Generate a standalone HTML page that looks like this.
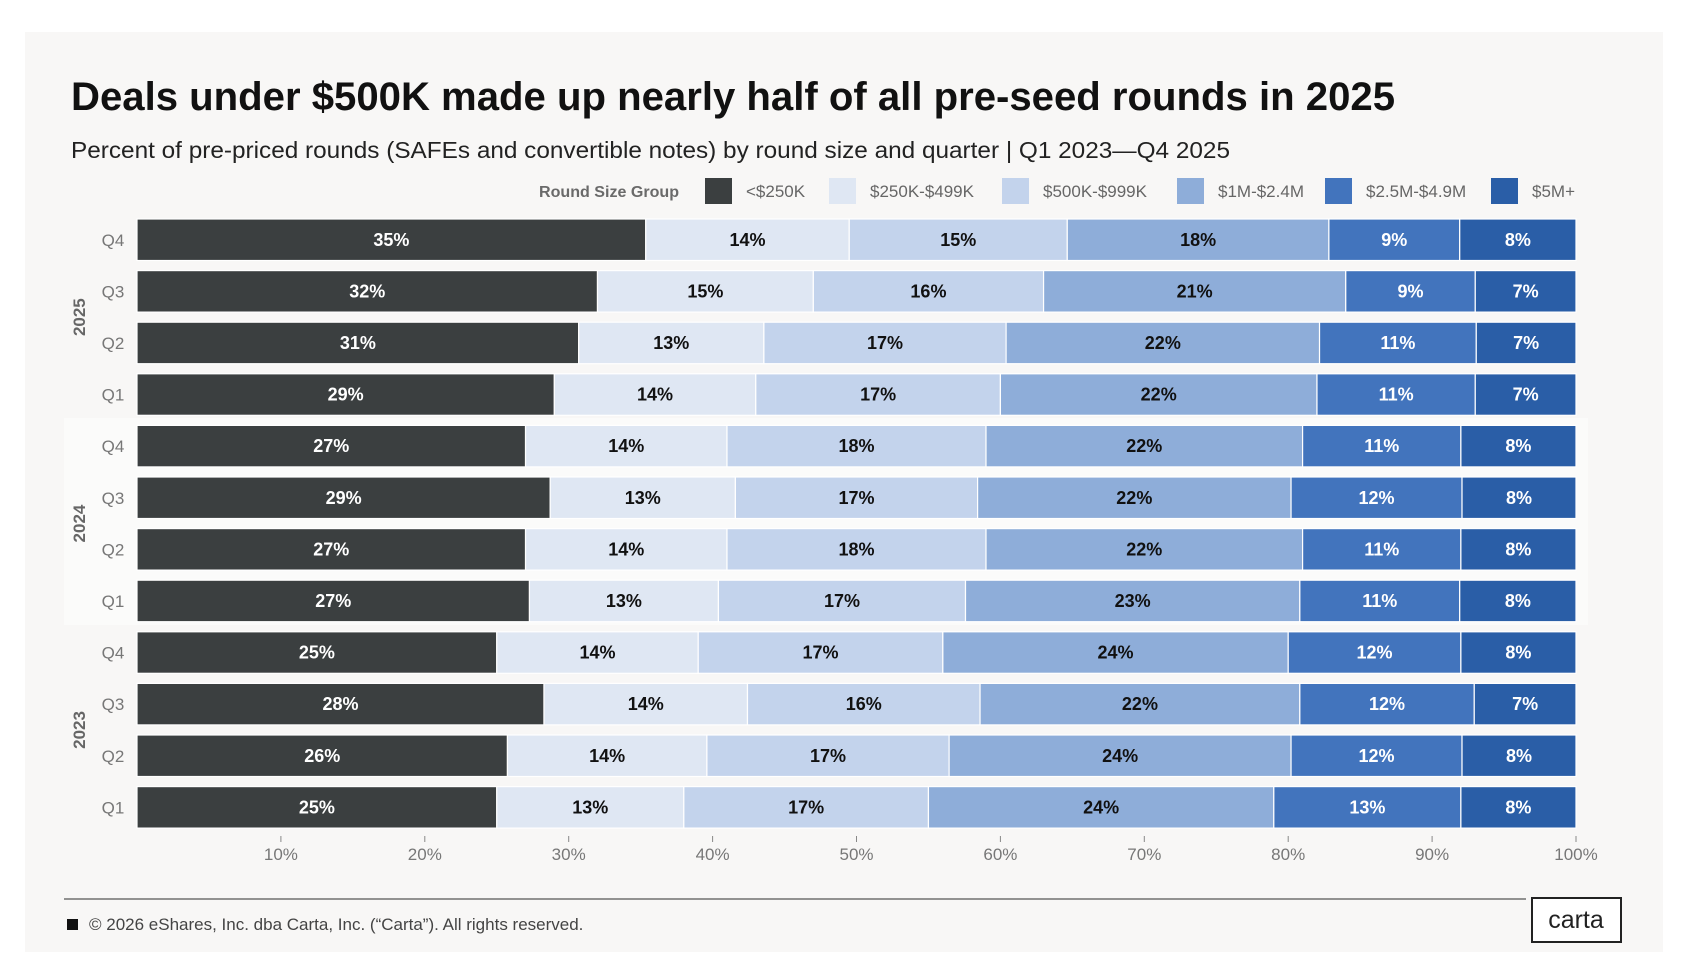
<!DOCTYPE html>
<html><head><meta charset="utf-8"><style>
html,body{margin:0;padding:0;background:#fff;}
svg{display:block;font-family:"Liberation Sans",sans-serif;}
</style></head><body>
<svg id="chart" width="1682" height="972" viewBox="0 0 1682 972">
<rect x="25" y="32" width="1638" height="920" fill="#f8f7f6"/>
<rect x="64" y="418" width="1524" height="207" fill="#fbfbfa"/>
<text x="71" y="110" font-size="40" font-weight="bold" fill="#111" textLength="1324" lengthAdjust="spacingAndGlyphs">Deals under $500K made up nearly half of all pre-seed rounds in 2025</text>
<text x="71" y="158" font-size="23" fill="#222" textLength="1159" lengthAdjust="spacingAndGlyphs">Percent of pre-priced rounds (SAFEs and convertible notes) by round size and quarter | Q1 2023—Q4 2025</text>
<text x="539" y="197" font-size="16" font-weight="bold" fill="#6a6a6a" textLength="140" lengthAdjust="spacingAndGlyphs">Round Size Group</text>
<g id="legend"></g>
<g id="bars"></g>
<g id="axis"></g>
<line x1="64" y1="899" x2="1526" y2="899" stroke="#555" stroke-width="1.2"/>
<rect x="67" y="919" width="11" height="11" fill="#111"/>
<text x="89" y="930" font-size="17" fill="#444">© 2026 eShares, Inc. dba Carta, Inc. (“Carta”). All rights reserved.</text>
<rect x="1532" y="898" width="89" height="44" fill="#fff" stroke="#222" stroke-width="2"/>
<text x="1576" y="928" font-size="25" fill="#222" text-anchor="middle">carta</text>
</svg>
<script>
const categories = ["Q4","Q3","Q2","Q1","Q4","Q3","Q2","Q1","Q4","Q3","Q2","Q1"];
const years = ["2025","2024","2023"];
const seriesNames = ["<$250K","$250K-$499K","$500K-$999K","$1M-$2.4M","$2.5M-$4.9M","$5M+"];
const s250 = [35,32,31,29,27,29,27,27,25,28,26,25];
const s499 = [14,15,13,14,14,13,14,13,14,14,14,13];
const s999 = [15,16,17,17,18,17,18,17,17,16,17,17];
const s24 = [18,21,22,22,22,22,22,23,24,22,24,24];
const s49 = [9,9,11,11,11,12,11,11,12,12,12,13];
const s5 = [8,7,7,7,8,8,8,8,8,7,8,8];
const tickLabels = ["10%","20%","30%","40%","50%","60%","70%","80%","90%","100%"];
const tickValues = [10,20,30,40,50,60,70,80,90,100];

const colors = ["#3b3f40","#dfe7f3","#c3d3ec","#8eadd9","#4274bd","#2a5ea7"];
const textColors = ["#fff","#111","#111","#111","#fff","#fff"];
const series = [s250,s499,s999,s24,s49,s5];
const NS = "http://www.w3.org/2000/svg";
const X0 = 137, X1 = 1576, Y0 = 219, PITCH = 51.6, BH = 41.5;
const xs = v => X0 + (X1 - X0) * v / 100;
const ys = i => Y0 + i * PITCH;
function mk(tag, attrs, parent){const e=document.createElementNS(NS,tag);for(const k in attrs)e.setAttribute(k,attrs[k]);parent.appendChild(e);return e;}

const legend = document.getElementById('legend');
const legX = [705,829,1002,1177,1325,1491];
seriesNames.forEach((n,j)=>{
  const r = mk('rect',{x:legX[j],y:178,width:27,height:26,fill:colors[j]},legend);
  
  
  const t = mk('text',{x:legX[j]+41,y:197,'font-size':17,fill:'#666'},legend);
  t.textContent = n;
  
  
});

const bars = document.getElementById('bars');
categories.forEach((c,i)=>{
  const tot = series.reduce((a,s)=>a+s[i],0);
  let acc = 0;
  const y = ys(i);
  series.forEach((s,j)=>{
    const a = xs(acc/tot*100), b = xs((acc+s[i])/tot*100);
    const r = mk('rect',{x:a,y:y,width:b-a,height:BH,fill:colors[j],stroke:'#fff','stroke-width':1.2},bars);
    
    
    const t = mk('text',{x:(a+b)/2,y:y+BH/2+6,'font-size':18,'font-weight':'bold',fill:textColors[j],'text-anchor':'middle'},bars);
    t.textContent = s[i]+'%';
    
    
    acc += s[i];
  });
  const q = mk('text',{x:113,y:y+BH/2+6,'font-size':17,fill:'#777','text-anchor':'middle'},bars);
  q.textContent = c;
  
  
});
years.forEach((yr,k)=>{
  const cy = (ys(k*4) + ys(k*4+3) + BH)/2;
  const t = mk('text',{x:0,y:0,'font-size':17,'font-weight':'bold',fill:'#666','text-anchor':'middle',transform:`translate(85,${cy}) rotate(-90)`},bars);
  t.textContent = yr;
  
  
});

const axis = document.getElementById('axis');
tickValues.forEach((v,k)=>{
  const l = mk('line',{x1:xs(v),x2:xs(v),y1:836,y2:842,stroke:'#888','stroke-width':1},axis);
  
  
  const t = mk('text',{x:xs(v),y:860,'font-size':17,fill:'#777','text-anchor':'middle'},axis);
  t.textContent = tickLabels[k];
  
  
});
</script>
</body></html>
